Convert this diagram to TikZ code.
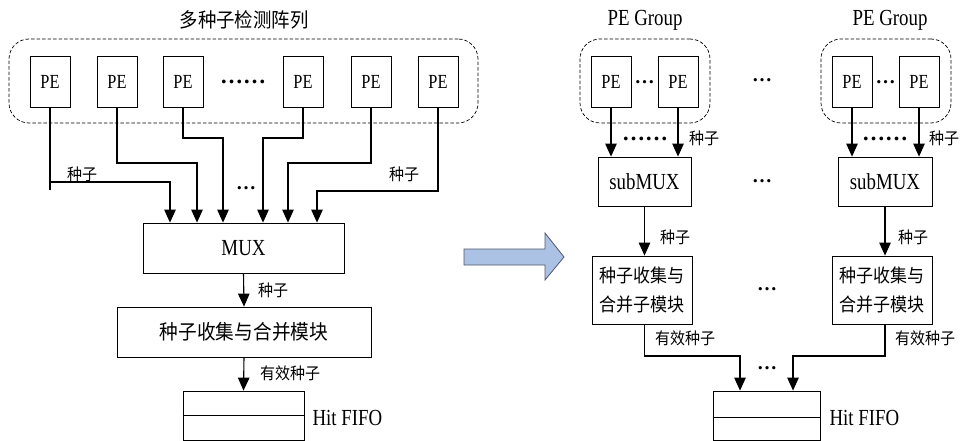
\documentclass[tikz,border=0pt]{standalone}
\usepackage{fontspec}
\setmainfont{Liberation Serif}[FakeStretch=0.82]
\newfontfamily\cjk{Noto Sans CJK SC}[FakeStretch=0.92]
\newfontfamily\dotf{Liberation Serif}
\usetikzlibrary{arrows.meta,calc}
\newcommand\fbig{\fontsize{23}{25}\selectfont}
\newcommand\fpe{\fontsize{20}{22}\selectfont}
\newcommand\fsmall{\fontsize{16.3}{18}\selectfont}
\begin{document}
\begin{tikzpicture}[x=1pt,y=-1pt,
  pebox/.style={draw, line width=0.8pt, minimum width=40pt, minimum height=51pt, inner sep=0pt, font=\fpe},
  grp/.style={draw, dashed, dash pattern=on 3.5pt off 2pt, line width=0.7pt, rounded corners=20pt, inner sep=0pt},
  blk/.style={draw, line width=0.8pt, inner sep=0pt, font=\fbig},
  lbl/.style={inner sep=0pt, font=\fsmall\cjk},
  dotsn/.style={inner sep=0pt, font=\dotf\bfseries\fontsize{20}{20}\selectfont},
  dotsw/.style={inner sep=0pt, font=\dotf\bfseries\fontsize{23}{23}\selectfont},
  arr/.style={line width=1.1pt, -{Triangle[length=13pt,width=11.5pt]}},
  ln/.style={line width=1.1pt}]
\useasboundingbox (0,0) rectangle (960,441);

% ---------------- left ----------------
\node[inner sep=0pt, font=\cjk\fontsize{20}{22}\selectfont] (title) at (244,20) {多种子检测阵列};
\node[grp, minimum width=469pt, minimum height=84pt] (grpA) at (243.5,81) {};
\node[pebox] (pe1) at (50,81.5) {PE};
\node[pebox] (pe2) at (117,81.5) {PE};
\node[pebox] (pe3) at (183,81.5) {PE};
\node[dotsw] (dA) at (243,82) {……};
\node[pebox] (pe4) at (303,81.5) {PE};
\node[pebox] (pe5) at (371,81.5) {PE};
\node[pebox] (pe6) at (438,81.5) {PE};

\node[blk, minimum width=201pt, minimum height=50pt] (mux) at (243.5,248) {MUX};
\node[blk, minimum width=254pt, minimum height=50pt, font=\cjk\fontsize{20.3}{22}\selectfont] (col) at (244,332) {种子收集与合并模块};
\node[draw, line width=0.8pt, minimum width=121pt, minimum height=49pt, inner sep=0pt] (fifo) at (243.5,415.5) {};
\draw[line width=0.8pt] (fifo.west) -- (fifo.east);
\node[inner sep=0pt, font=\fbig, anchor=west] (hitA) at ($(fifo.east)+(8,2)$) {Hit FIFO};

\draw[ln] (pe1.south) -- ++(0,83);
\draw[arr] (pe1.south) |- (170,182) -- (170,0 |- mux.north);
\draw[arr] (pe2.south) |- (197,163) -- (197,0 |- mux.north);
\draw[arr] (pe3.south) |- (223,138) -- (223,0 |- mux.north);
\draw[arr] (pe4.south) |- (263,138) -- (263,0 |- mux.north);
\draw[arr] (pe5.south) |- (288,163) -- (288,0 |- mux.north);
\draw[arr] (pe6.south) |- (317,191) -- (317,0 |- mux.north);
\node[lbl] (sz1) at (82,174) {种子};
\node[lbl] (sz2) at (404,174) {种子};
\node[dotsn] (dB) at (246,188) {…};

\draw[arr] (mux.south) -- (col.north);
\node[lbl] (sz3) at (273,290) {种子};
\draw[arr] (col.south) -- (fifo.north);
\node[lbl] (yx1) at (290,373) {有效种子};

% ---------------- big arrow ----------------
\draw[line width=0.8pt, draw={rgb,255:red,80;green,88;blue,105}, fill={rgb,255:red,172;green,194;blue,228}]
  (464,249) -- (545,249) -- (545,233) -- (564,257) -- (545,280) -- (545,265) -- (464,265) -- cycle;

% ---------------- right ----------------
\node[inner sep=0pt, font=\fbig] (tgL) at (645,20) {PE Group};
\node[inner sep=0pt, font=\fbig] (tgR) at (890,20) {PE Group};
\node[grp, minimum width=130pt, minimum height=84pt] (grpL) at (645,81) {};
\node[grp, minimum width=130pt, minimum height=84pt] (grpR) at (886,81) {};
\node[pebox] (pl1) at (611,81.5) {PE};
\node[pebox] (pl2) at (678,81.5) {PE};
\node[dotsn] (dL) at (644.5,82) {…};
\node[pebox] (pr1) at (852,81.5) {PE};
\node[pebox] (pr2) at (919,81.5) {PE};
\node[dotsn] (dR) at (885.5,82) {…};
\node[dotsn] (dM1) at (762,80) {…};

\node[blk, minimum width=93pt, minimum height=49pt] (subL) at (644.5,181.5) {subMUX};
\node[blk, minimum width=94pt, minimum height=49pt] (subR) at (885,181.5) {subMUX};
\node[dotsn] (dM2) at (762,181) {…};

\draw[arr] (pl1.south) -- (pl1.south |- subL.north);
\draw[arr] (pl2.south) -- (pl2.south |- subL.north);
\draw[arr] (pr1.south) -- (pr1.south |- subR.north);
\draw[arr] (pr2.south) -- (pr2.south |- subR.north);
\node[dotsw] (dL2) at (645,139) {……};
\node[dotsw] (dR2) at (885,139) {……};
\node[lbl] (szL) at (704,138) {种子};
\node[lbl] (szR) at (944,138) {种子};

\node[blk, minimum width=100pt, minimum height=68pt, align=center, font=\cjk\fontsize{18.5}{29}\selectfont] (colL) at (642,290) {种子收集与\\合并子模块};
\node[blk, minimum width=100pt, minimum height=68pt, align=center, font=\cjk\fontsize{18.5}{29}\selectfont] (colR) at (882,290) {种子收集与\\合并子模块};
\node[dotsn] (dM3) at (767,289) {…};

\draw[arr] (subL.south) -- (subL.south |- colL.north);
\draw[arr] (subR.south) -- (subR.south |- colR.north);
\node[lbl] (szL2) at (675,237) {种子};
\node[lbl] (szR2) at (913,237) {种子};

\node[draw, line width=0.8pt, minimum width=107pt, minimum height=49pt, inner sep=0pt] (fifo2) at (766.5,415.5) {};
\draw[line width=0.8pt] ($(fifo2.west)+(0,1.5)$) -- ($(fifo2.east)+(0,1.5)$);
\node[inner sep=0pt, font=\fbig, anchor=west] (hitB) at ($(fifo2.east)+(9,2)$) {Hit FIFO};

\draw[arr] (colL.south -| subL.south) |- (740,356) -- (740,0 |- fifo2.north);
\draw[arr] (colR.south -| subR.south) |- (793,356) -- (793,0 |- fifo2.north);
\node[lbl] (yxL) at (685,338) {有效种子};
\node[lbl] (yxR) at (925,338) {有效种子};
\node[dotsn] (dM4) at (767,368) {…};
\end{tikzpicture}
\end{document}
